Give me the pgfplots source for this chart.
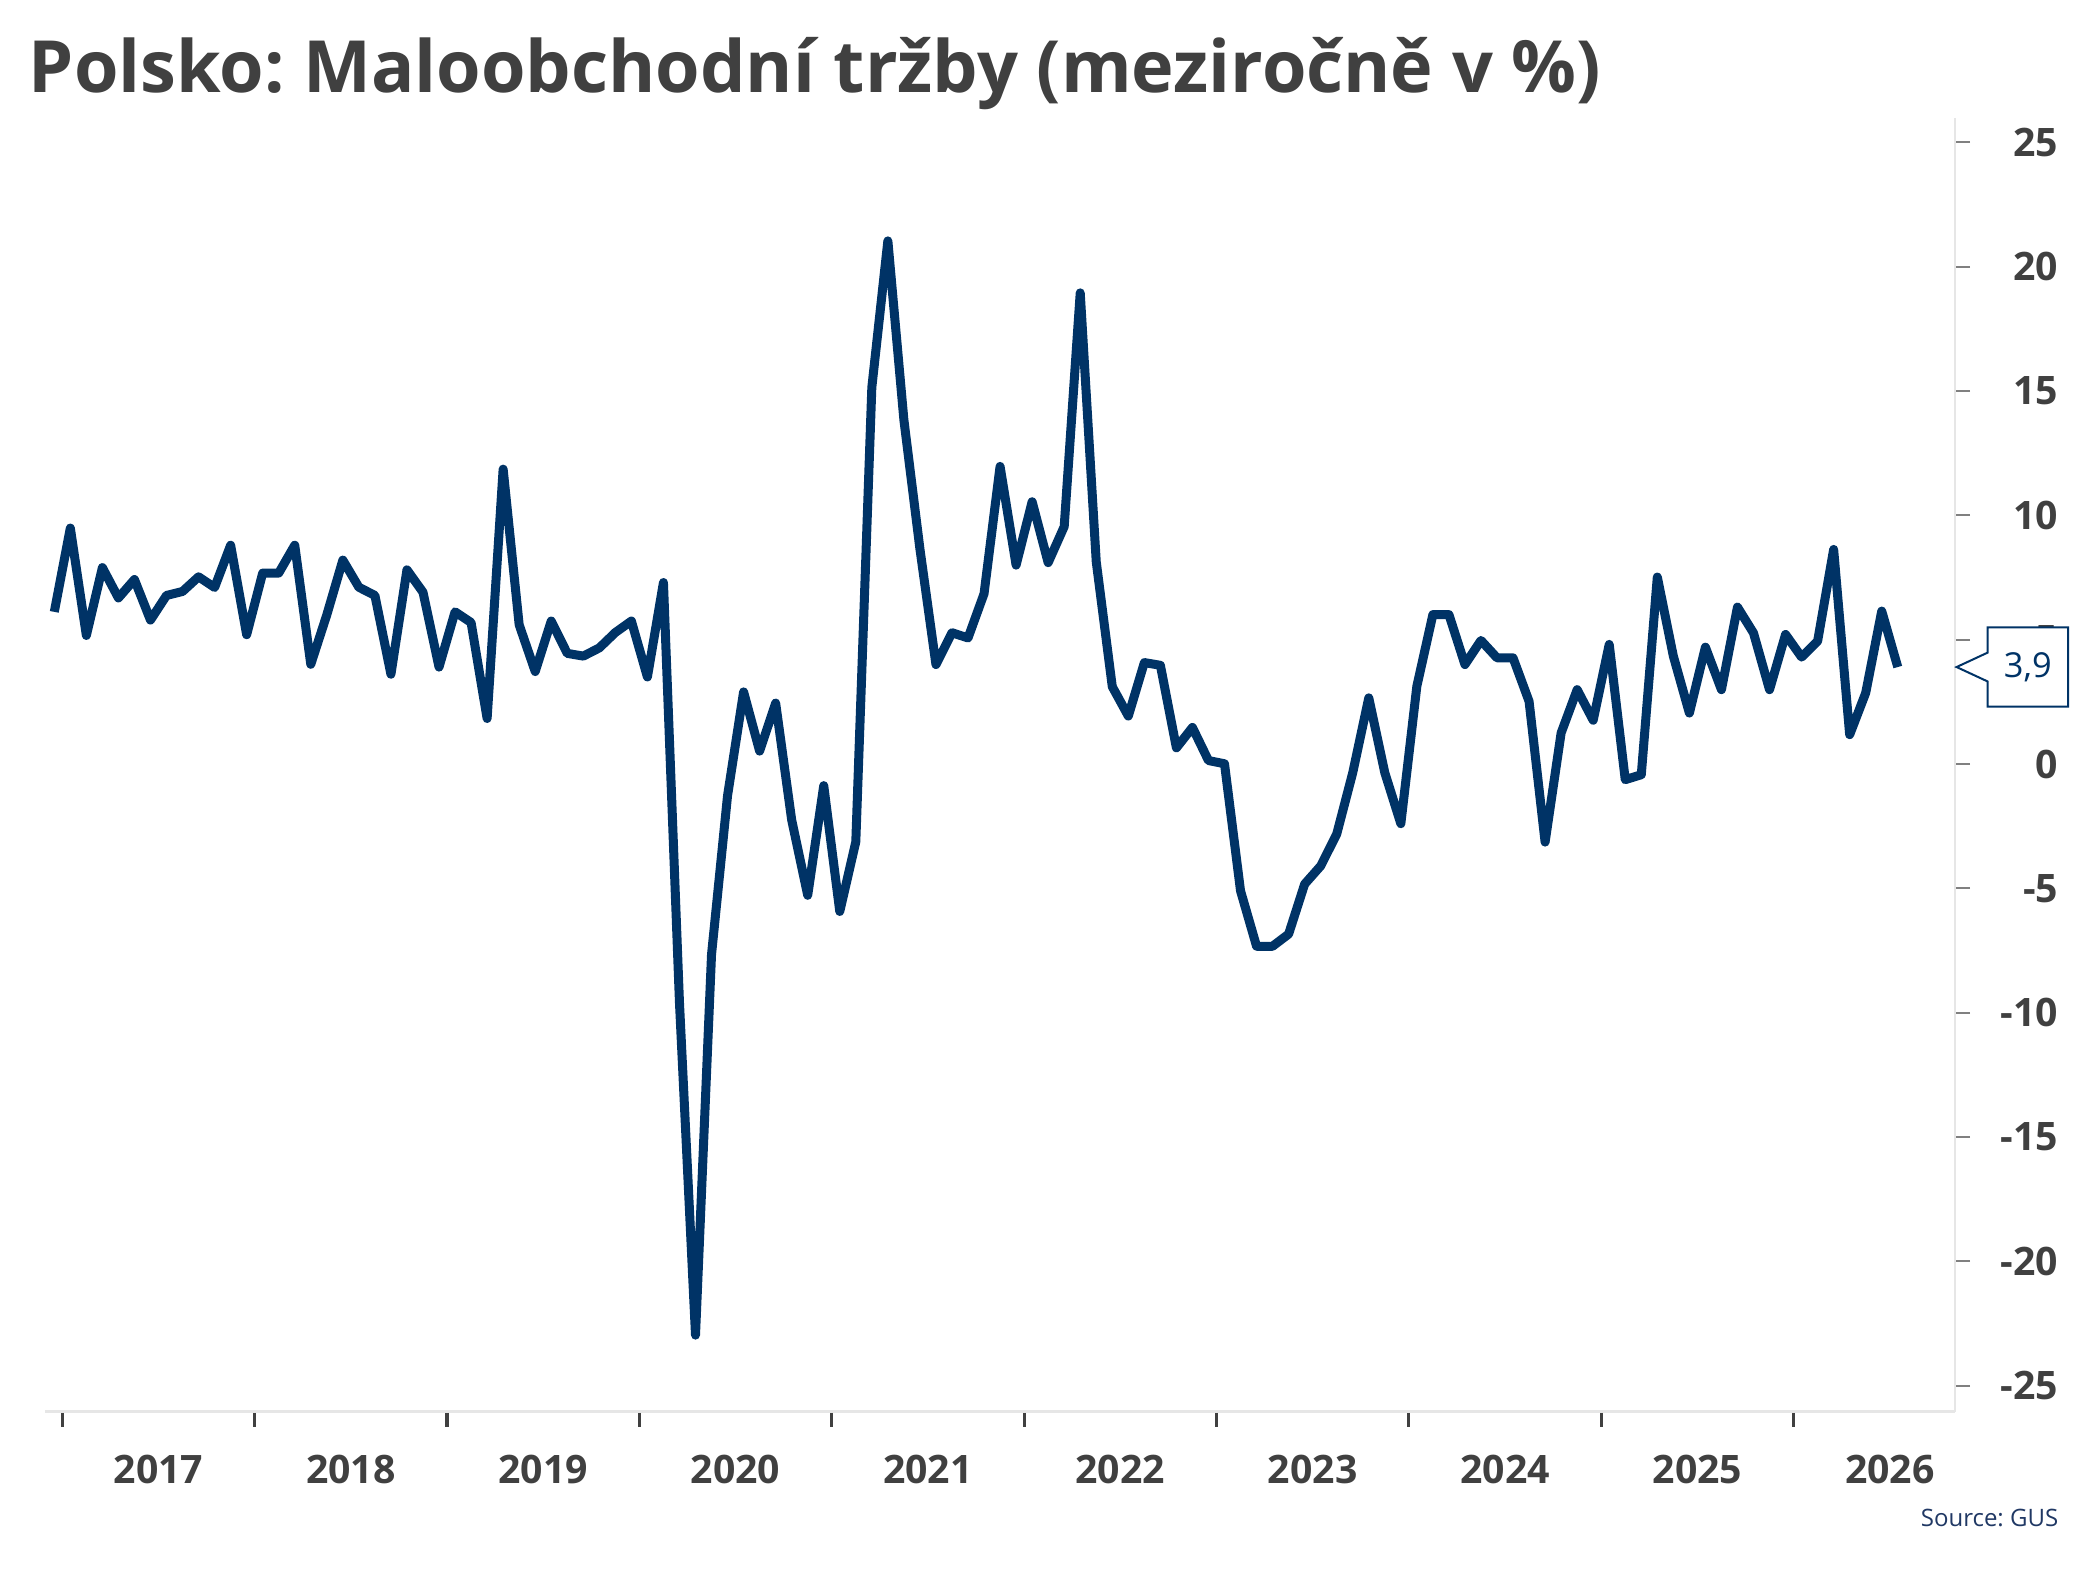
\documentclass[border=0pt]{standalone}
\usepackage{fontspec}
\setmainfont{Open Sans}
\usepackage{pgfplots}
\pgfplotsset{compat=1.18}
\frenchspacing
\definecolor{navy}{HTML}{003366}
\definecolor{src}{HTML}{203864}
\definecolor{txt}{HTML}{404040}
\definecolor{axl}{HTML}{E6E6E6}
\definecolor{ytk}{HTML}{808080}

\pgfplotstableread{
idx val
0 6.12
1 9.49
2 5.17
3 7.90
4 6.68
5 7.42
6 5.79
7 6.78
8 6.94
9 7.53
10 7.10
11 8.80
12 5.20
13 7.68
14 7.68
15 8.80
16 4.01
17 6.00
18 8.20
19 7.11
20 6.78
21 3.61
22 7.81
23 6.91
24 3.90
25 6.12
26 5.69
27 1.83
28 11.86
29 5.60
30 3.72
31 5.75
32 4.45
33 4.34
34 4.67
35 5.29
36 5.75
37 3.50
38 7.30
39 -9.60
40 -22.97
41 -7.66
42 -1.27
43 2.90
44 0.52
45 2.45
46 -2.25
47 -5.28
48 -0.87
49 -5.93
50 -3.13
51 15.15
52 21.04
53 13.84
54 8.65
55 4.00
56 5.28
57 5.07
58 6.85
59 11.97
60 8.00
61 10.55
62 8.10
63 9.55
64 18.95
65 8.13
66 3.11
67 1.93
68 4.08
69 3.97
70 0.65
71 1.47
72 0.14
73 0.01
74 -5.10
75 -7.33
76 -7.33
77 -6.84
78 -4.83
79 -4.10
80 -2.82
81 -0.35
82 2.66
83 -0.35
84 -2.40
85 3.13
86 6.01
87 6.01
88 4.00
89 4.97
90 4.27
91 4.27
92 2.52
93 -3.14
94 1.25
95 2.99
96 1.76
97 4.81
98 -0.63
99 -0.43
100 7.52
101 4.34
102 2.05
103 4.70
104 2.99
105 6.31
106 5.27
107 2.99
108 5.21
109 4.30
110 4.94
111 8.63
112 1.18
113 2.86
114 6.15
115 3.90
}\sales

\begin{document}
\begin{tikzpicture}
\useasboundingbox (0,0) rectangle (523.25pt,392pt);
\begin{axis}[
  at={(11.25pt,39.08pt)}, anchor=south west,
  scale only axis, width=477.5pt, height=323.4pt,
  xmin=-0.58, xmax=118.57, ymin=-26.05, ymax=25.98,
  axis x line*=bottom, axis y line*=right,
  axis line style={-, draw=axl, line width=0.6pt},
  xtick={6.5,18.5,30.5,42.5,54.5,66.5,78.5,90.5,102.5,114.5},
  xticklabels={2017,2018,2019,2020,2021,2022,2023,2024,2025,2026},
  xtick style={draw=none},
  ytick={-25,-20,-15,-10,-5,0,5,10,15,20,25},
  ytick style={draw=ytk, line width=0.5pt},
  tick align=outside, major tick length=3.75pt,
  ticklabel style={font=\bfseries\fontsize{9.8}{10}\selectfont, text=txt},
  /pgf/number format/assume math mode=true,
  yticklabel style={anchor=east, inner sep=0pt, xshift=22.25pt},
  xticklabel style={anchor=base, inner sep=0pt, yshift=-14.1pt},
  clip=false,
]
\addplot[navy, line width=2.25pt, line join=round] table[x=idx, y=val] {\sales};
\pgfplotsinvokeforeach{0.5,12.5,24.5,36.5,48.5,60.5,72.5,84.5,96.5,108.5}{
  \draw[txt, line width=0.8pt] (axis cs:#1,-26.05) ++(0pt,-0.3pt) -- ++(0pt,-3.5pt);
}
\coordinate (tip) at (axis cs:118.57,3.9);
\end{axis}
\draw[navy, line width=0.5pt, fill=white] (tip) ++(0.4pt,0pt) -- ++(7.75pt,3.6pt) -- ++(0pt,6.3pt) -- ++(20.15pt,0pt) -- ++(0pt,-19.8pt) -- ++(-20.15pt,0pt) -- ++(0pt,6.3pt) -- cycle;
\node[text=navy, inner sep=0pt, font=\fontsize{8.6}{9}\selectfont] at ([xshift=18.2pt]tip) {3,9};
\node[anchor=base west, inner sep=0pt, text=txt, font=\bfseries\fontsize{18}{20}\selectfont] at (7pt,368.8pt) {Polsko: Maloobchodní tržby (meziročně v \%)};
\node[anchor=base east, inner sep=0pt, text=src, font=\fontsize{6}{7}\selectfont] at (514.75pt,10.3pt) {Source: GUS};
\end{tikzpicture}
\end{document}
